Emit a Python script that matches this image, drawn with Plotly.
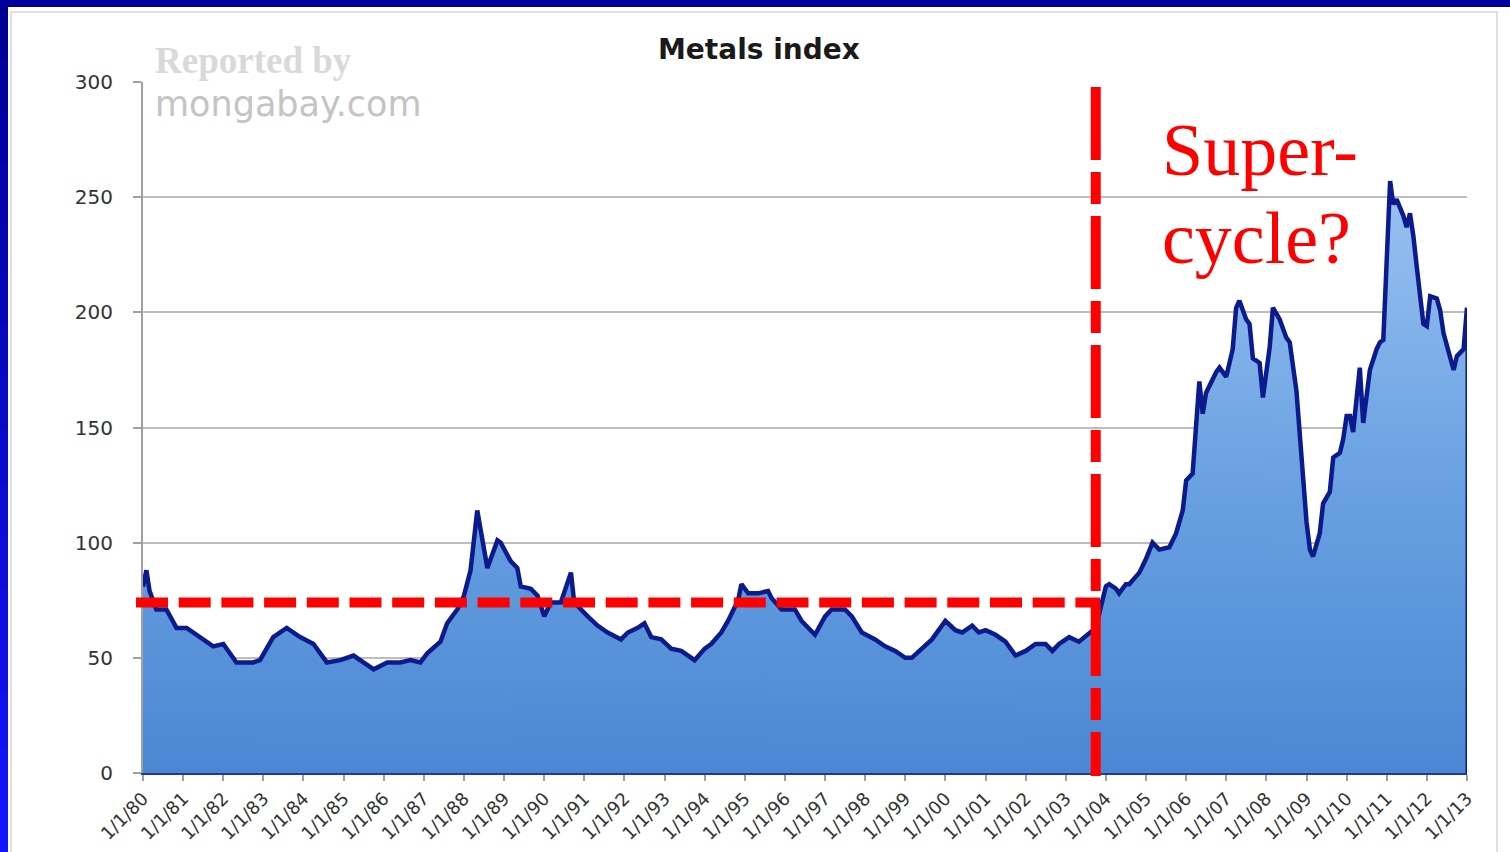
import plotly.graph_objects as go

# Monthly metals index readings (first of month)
dates = [
    "1980-01-01", "1980-02-01", "1980-03-01", "1980-05-01", "1980-08-01", "1980-11-01",
    "1981-02-01", "1981-07-01", "1981-10-01", "1982-01-01", "1982-05-01", "1982-10-01",
    "1982-12-01", "1983-04-01", "1983-08-01", "1983-12-01", "1984-04-01", "1984-08-01",
    "1984-12-01", "1985-04-01", "1985-08-01", "1985-10-01", "1986-02-01", "1986-06-01",
    "1986-09-01", "1986-12-01", "1987-02-01", "1987-06-01", "1987-08-01", "1987-11-01",
    "1988-01-01", "1988-03-01", "1988-05-01", "1988-08-01", "1988-11-01", "1988-12-01",
    "1989-03-01", "1989-05-01", "1989-06-01", "1989-09-01", "1989-11-01", "1990-01-01",
    "1990-03-01", "1990-06-01", "1990-09-01", "1990-10-01", "1991-02-01", "1991-05-01",
    "1991-08-01", "1991-12-01", "1992-02-01", "1992-05-01", "1992-07-01", "1992-09-01",
    "1992-12-01", "1993-03-01", "1993-06-01", "1993-10-01", "1994-01-01", "1994-03-01",
    "1994-06-01", "1994-08-01", "1994-11-01", "1994-12-01", "1995-02-01", "1995-05-01",
    "1995-08-01", "1995-09-01", "1995-12-01", "1996-04-01", "1996-06-01", "1996-10-01",
    "1997-01-01", "1997-03-01", "1997-07-01", "1997-09-01", "1997-12-01", "1998-04-01",
    "1998-07-01", "1998-10-01", "1999-01-01", "1999-03-01", "1999-06-01", "1999-09-01",
    "1999-11-01", "2000-01-01", "2000-04-01", "2000-06-01", "2000-09-01", "2000-11-01",
    "2001-01-01", "2001-04-01", "2001-07-01", "2001-10-01", "2002-01-01", "2002-04-01",
    "2002-07-01", "2002-09-01", "2002-11-01", "2003-02-01", "2003-05-01", "2003-08-01",
    "2003-10-01", "2004-01-01", "2004-02-01", "2004-04-01", "2004-05-01", "2004-07-01",
    "2004-08-01", "2004-11-01", "2005-01-01", "2005-03-01", "2005-05-01", "2005-08-01",
    "2005-10-01", "2005-12-01", "2006-01-01", "2006-03-01", "2006-05-01", "2006-06-01",
    "2006-07-01", "2006-10-01", "2006-11-01", "2007-01-01", "2007-03-01", "2007-04-01",
    "2007-05-01", "2007-07-01", "2007-08-01", "2007-09-01", "2007-11-01", "2007-12-01",
    "2008-02-01", "2008-03-01", "2008-05-01", "2008-07-01", "2008-08-01", "2008-10-01",
    "2008-11-01", "2008-12-01", "2009-01-01", "2009-02-01", "2009-03-01", "2009-05-01",
    "2009-06-01", "2009-08-01", "2009-09-01", "2009-11-01", "2009-12-01", "2010-01-01",
    "2010-02-01", "2010-03-01", "2010-05-01", "2010-06-01", "2010-08-01", "2010-10-01",
    "2010-11-01", "2010-12-01", "2011-01-01", "2011-02-01", "2011-03-01", "2011-04-01",
    "2011-06-01", "2011-07-01", "2011-08-01", "2011-09-01", "2011-10-01", "2011-12-01",
    "2012-01-01", "2012-02-01", "2012-04-01", "2012-05-01", "2012-06-01", "2012-09-01",
    "2012-10-01", "2012-12-01", "2013-01-01",
]
index_values = [
    81, 88, 79, 71, 71, 63,
    63, 58, 55, 56, 48, 48,
    49, 59, 63, 59, 56, 48,
    49, 51, 47, 45, 48, 48,
    49, 48, 52, 57, 65, 71,
    77, 88, 114, 89, 101, 100,
    92, 89, 81, 80, 77, 68,
    74, 74, 87, 74, 68, 64,
    61, 58, 61, 63, 65, 59,
    58, 54, 53, 49, 54, 56,
    61, 66, 75, 82, 78, 78,
    79, 76, 71, 71, 66, 60,
    68, 71, 71, 68, 61, 58,
    55, 53, 50, 50, 54, 58,
    62, 66, 62, 61, 64, 61,
    62, 60, 57, 51, 53, 56,
    56, 53, 56, 59, 57, 61,
    63, 81, 82, 80, 78, 82,
    82, 87, 93, 100, 97, 98,
    104, 114, 127, 130, 170, 156,
    165, 174, 176, 172, 184, 202,
    205, 197, 195, 180, 178, 163,
    185, 202, 197, 189, 187, 166,
    146, 127, 109, 97, 94, 104,
    117, 122, 137, 139, 145, 155,
    155, 148, 176, 152, 175, 184,
    187, 188, 225, 257, 247, 249,
    242, 237, 243, 233, 220, 195,
    194, 207, 206, 201, 191, 175,
    181, 184, 202,
]

# Reference levels for the annotations
long_run_level = 74
cycle_start = "2003-10-01"

x_start, x_end = "1980-01-01", "2013-01-01"
y_ticks = [0, 50, 100, 150, 200, 250, 300]

W, H = 1510, 852
L, R, T, B = 143, 43, 82, 79
PW, PH = W - L - R, H - T - B


def px_x(p):
    return (p - L) / PW


def px_y(p):
    return (H - B - p) / PH


fig = go.Figure()

fig.add_trace(go.Scatter(
    x=dates, y=index_values, mode="lines",
    line=dict(color="#0b1a8c", width=4.5),
    fill="tozeroy",
    fillgradient=dict(type="vertical", start=0, stop=260,
                      colorscale=[[0, "#4b87d3"], [0.5, "#6aa2e2"], [1, "#9cc2f2"]]),
    hoverinfo="skip", showlegend=False,
))

shapes = []

# right-hand closing edge of the area
shapes.append(dict(type="line", xref="x", yref="y", x0=dates[-1], x1=dates[-1],
                   y0=0, y1=index_values[-1], line=dict(color="#0b1a8c", width=3)))

# chart-area border
shapes.append(dict(type="rect", xref="paper", yref="paper",
                   x0=px_x(11), x1=px_x(1497), y0=px_y(870), y1=px_y(12),
                   line=dict(color="#e0e0e0", width=2), fillcolor="rgba(0,0,0,0)", layer="below"))

# slide frame: top band and left band with a vertical gradient
shapes.append(dict(type="rect", xref="paper", yref="paper",
                   x0=px_x(0), x1=px_x(W), y0=px_y(7), y1=px_y(0),
                   line=dict(width=0), fillcolor="#00009a"))
n_steps = 16
for i in range(n_steps):
    t = i / (n_steps - 1)
    r = int(0 + 20 * t)
    g = int(0 + 20 * t)
    b = int(150 + 100 * t)
    y_top = 7 + (H - 7) * i / n_steps
    y_bot = 7 + (H - 7) * (i + 1) / n_steps
    shapes.append(dict(type="rect", xref="paper", yref="paper",
                       x0=px_x(0), x1=px_x(8), y0=px_y(y_bot + 1), y1=px_y(y_top),
                       line=dict(width=0), fillcolor=f"rgb({r},{g},{b})"))

# red dashed guides
shapes.append(dict(type="line", xref="paper", yref="y",
                   x0=px_x(136), x1=px_x(1100), y0=long_run_level, y1=long_run_level,
                   line=dict(color="#ff0000", width=10, dash="32px,10.7px")))
shapes.append(dict(type="line", xref="x", yref="paper",
                   x0=cycle_start, x1=cycle_start, y0=px_y(87), y1=px_y(776),
                   line=dict(color="#ff0000", width=10, dash="73px,12px,32px,12px")))

annotations = [
    dict(text="Metals index", xref="paper", yref="paper", x=px_x(759), y=px_y(50),
         showarrow=False, xanchor="center", yanchor="middle",
         font=dict(family="DejaVu Sans", size=28, color="#1a1a1a", weight="bold")),
    dict(text="Reported by", xref="paper", yref="paper", x=px_x(153), y=px_y(61),
         showarrow=False, xanchor="left", yanchor="middle",
         font=dict(family="Liberation Serif", size=37, color="#d9d9d9", weight="bold")),
    dict(text="mongabay.com", xref="paper", yref="paper", x=px_x(153), y=px_y(104),
         showarrow=False, xanchor="left", yanchor="middle",
         font=dict(family="DejaVu Sans", size=35, color="#c4c4c4")),
    dict(text="Super-", xref="paper", yref="paper", x=px_x(1160), y=px_y(150),
         showarrow=False, xanchor="left", yanchor="middle",
         font=dict(family="Liberation Serif", size=74, color="#ff0000")),
    dict(text="cycle?", xref="paper", yref="paper", x=px_x(1160), y=px_y(238),
         showarrow=False, xanchor="left", yanchor="middle",
         font=dict(family="Liberation Serif", size=74, color="#ff0000")),
]

fig.update_layout(
    width=W, height=H,
    margin=dict(l=L, r=R, t=T, b=B, pad=0, autoexpand=False),
    paper_bgcolor="white", plot_bgcolor="white",
    shapes=shapes, annotations=annotations,
    showlegend=False,
)

fig.update_xaxes(
    type="date", range=[x_start, x_end], automargin=False,
    tick0=x_start, dtick="M12", tickformat="%-m/%-d/%y",
    tickangle=-45, ticks="outside", ticklen=6, tickcolor="#a0a0a0", tickwidth=2,
    showline=True, linecolor="#243a8c", linewidth=2,
    showgrid=False, zeroline=False,
    tickfont=dict(family="DejaVu Sans", size=18, color="#333333"),
)
fig.update_yaxes(
    range=[0, 300], tickvals=y_ticks, automargin=False,
    ticks="outside", ticklen=8, tickcolor="#a0a0a0", tickwidth=2,
    showline=True, linecolor="#a0a0a0", linewidth=2,
    showgrid=True, gridcolor="#bdbdbd", gridwidth=2,
    zeroline=False, ticklabelstandoff=16,
    tickfont=dict(family="DejaVu Sans", size=20, color="#333333"),
)

fig.write_html("out.html")
